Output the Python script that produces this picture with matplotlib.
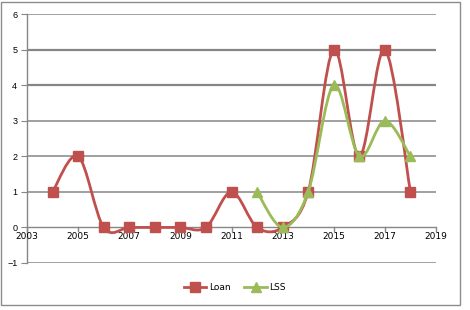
import matplotlib
matplotlib.use("Agg")
import matplotlib.pyplot as plt
import numpy as np
from matplotlib.path import Path
from matplotlib.patches import PathPatch, Rectangle
from matplotlib.lines import Line2D

loan_years = [2004, 2005, 2006, 2007, 2008, 2009, 2010, 2011, 2012, 2013, 2014, 2015, 2016, 2017, 2018]
loan_vals = [1, 2, 0, 0, 0, 0, 0, 1, 0, 0, 1, 5, 2, 5, 1]
lss_years = [2012, 2013, 2014, 2015, 2016, 2017, 2018]
lss_vals = [1, 0, 1, 4, 2, 3, 2]

RED = "#C0504D"
GREEN = "#9BBB59"
GRID = "#868686"


def smooth_path(xs, ys):
    # excel-like smoothed line: cubic bezier segments through the points
    p = np.column_stack([xs, ys]).astype(float)
    n = len(p)
    verts = [p[0]]
    codes = [Path.MOVETO]
    for i in range(n - 1):
        p0 = p[i - 1] if i > 0 else p[i]
        p1, p2 = p[i], p[i + 1]
        p3 = p[i + 2] if i + 2 < n else p[i + 1]
        c1 = p1 + (p2 - p0) / 6
        c2 = p2 - (p3 - p1) / 6
        verts += [c1, c2, p2]
        codes += [Path.CURVE4] * 3
    return Path(verts, codes)


fig = plt.figure(figsize=(4.7, 3.1), dpi=100)
ax = fig.add_axes([27 / 470, 1 - 263 / 310, (436 - 27) / 470, (263 - 14) / 310])

fig.patches.append(Rectangle((0.002, 1 - 305 / 310), 459 / 470, 303 / 310,
                             transform=fig.transFigure, fill=False,
                             edgecolor="#8c8c8c", linewidth=1.0))

ax.set_xlim(2003, 2019)
ax.set_ylim(-1, 6)
for y in [-1, 1, 2, 3, 4, 5, 6]:
    ax.axhline(y, color=GRID, linewidth=1.1 if y != 5 and y != 4 else 1.6, zorder=1)
ax.axhline(0, color=GRID, linewidth=1.0, zorder=1)

for s in ["top", "right", "bottom"]:
    ax.spines[s].set_visible(False)
ax.spines["left"].set_color(GRID)
ax.spines["left"].set_linewidth(1.0)

ax.set_yticks(range(-1, 7))
ax.tick_params(axis="y", length=4, color=GRID, labelsize=6.5, pad=3)
ax.set_xticks([])
for yr in range(2003, 2020, 2):
    ax.plot([yr, yr], [0, -0.09], color=GRID, linewidth=1.0, clip_on=False, zorder=1)
    ax.text(yr, -0.13, str(yr), ha="center", va="top", fontsize=6.5, color="black")

ax.add_patch(PathPatch(smooth_path(loan_years, loan_vals), facecolor="none",
                       edgecolor=RED, linewidth=2.0, zorder=3))
ax.plot(loan_years, loan_vals, linestyle="none", marker="s", markersize=6.5,
        color=RED, zorder=4)
ax.add_patch(PathPatch(smooth_path(lss_years, lss_vals), facecolor="none",
                       edgecolor=GREEN, linewidth=2.0, zorder=5))
ax.plot(lss_years, lss_vals, linestyle="none", marker="^", markersize=6.5,
        color=GREEN, zorder=6)

handles = [Line2D([], [], color=RED, marker="s", markersize=6.5, linewidth=2.0),
           Line2D([], [], color=GREEN, marker="^", markersize=6.5, linewidth=2.0)]
fig.legend(handles, ["Loan", "LSS"], loc="center", bbox_to_anchor=(0.5, 1 - 288 / 310),
           ncol=2, frameon=False, fontsize=6.5, handlelength=2.5, handletextpad=0.3,
           columnspacing=1.5)

for t in ax.get_yticklabels():
    t.set_fontfamily("Liberation Sans")
plt.savefig("out.png", dpi=100)
